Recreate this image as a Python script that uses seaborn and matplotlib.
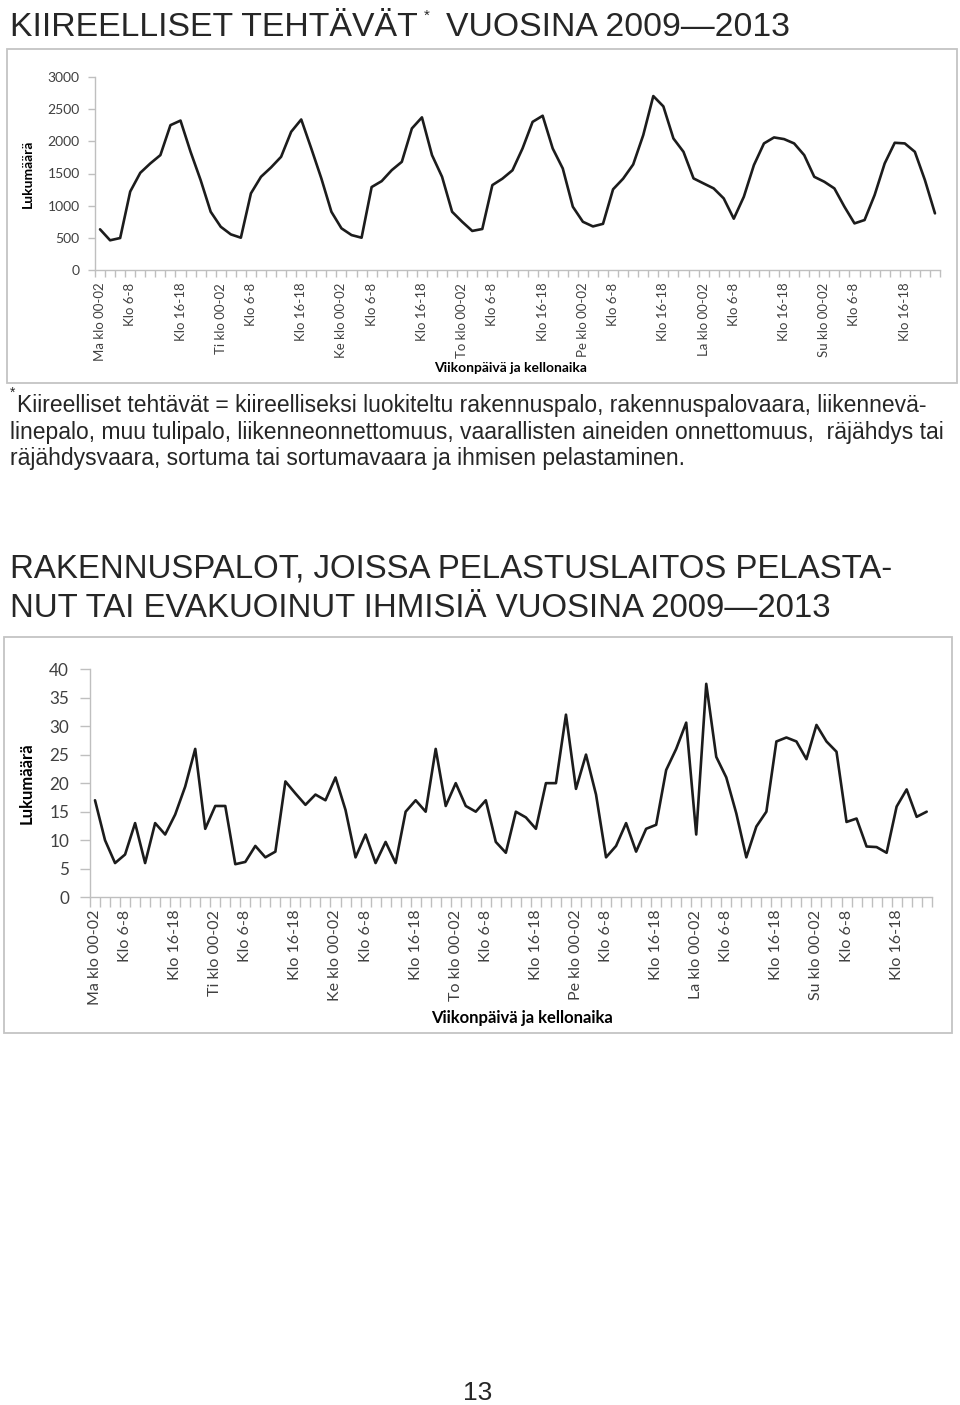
import numpy as np
import pandas as pd
import matplotlib
matplotlib.use("Agg")
import matplotlib.pyplot as plt
import seaborn as sns
from matplotlib.patches import Rectangle

# ---------------- data ----------------
# Kiireelliset tehtävät, 2-hour slots Ma 00-02 ... Su 22-24 (84 slots)
kiireelliset = [
    635, 465, 500, 1220, 1510, 1656, 1785, 2249, 2320, 1836, 1398, 907,
    675, 557, 505, 1192, 1449, 1594, 1759, 2146, 2337, 1888, 1424, 907,
    650, 546, 505, 1290, 1382, 1552, 1681, 2198, 2370, 1785, 1449, 907,
    752, 610, 640, 1320, 1420, 1550, 1888, 2300, 2395, 1888, 1578, 985,
    752, 680, 720, 1255, 1420, 1640, 2095, 2700, 2540, 2043, 1836, 1424,
    1346, 1269, 1114, 800, 1140, 1630, 1966, 2059, 2033, 1966, 1785, 1449,
    1372, 1269, 985, 727, 779, 1166, 1656, 1976, 1966, 1836, 1398, 882,
]
# Rakennuspalot, joissa pelastettu tai evakuoitu ihmisiä (84 slots)
rakennuspalot = [
    17, 10, 6, 7.5, 13, 6, 13, 11, 14.5, 19.4, 26, 12,
    16, 16, 5.8, 6.2, 9, 7, 8, 20.3, 18.2, 16.2, 18, 17,
    21, 15.3, 7, 11, 6, 9.7, 6, 15, 17, 15, 26, 16,
    20, 16, 15, 17, 9.7, 7.8, 15, 14, 12, 20, 20, 32,
    19, 25, 18, 7, 9, 13, 8, 12, 12.7, 22.3, 26, 30.6,
    11, 37.4, 24.6, 21, 14.7, 7, 12.4, 15, 27.3, 28, 27.3, 24.2,
    30.2, 27.3, 25.5, 13.2, 13.8, 8.9, 8.8, 7.8, 15.9, 18.9, 14.1, 15,
]
tick_positions = [0, 3, 8, 12, 15, 20, 24, 27, 32, 36, 39, 44,
                  48, 51, 56, 60, 63, 68, 72, 75, 80]
tick_labels = ["Ma klo 00-02", "Klo 6-8", "Klo 16-18",
               "Ti klo 00-02", "Klo 6-8", "Klo 16-18",
               "Ke klo 00-02", "Klo 6-8", "Klo 16-18",
               "To klo 00-02", "Klo 6-8", "Klo 16-18",
               "Pe klo 00-02", "Klo 6-8", "Klo 16-18",
               "La klo 00-02", "Klo 6-8", "Klo 16-18",
               "Su klo 00-02", "Klo 6-8", "Klo 16-18"]
y1_ticks = [0, 500, 1000, 1500, 2000, 2500, 3000]
y2_ticks = [0, 5, 10, 15, 20, 25, 30, 35, 40]

title1_a = "KIIREELLISET TEHTÄVÄT"
title1_b = "VUOSINA 2009\u20142013"
footnote_lines = [
    "Kiireelliset tehtävät = kiireelliseksi luokiteltu rakennuspalo, rakennuspalovaara, liikennevä-",
    "linepalo, muu tulipalo, liikenneonnettomuus, vaarallisten aineiden onnettomuus,  räjähdys tai",
    "räjähdysvaara, sortuma tai sortumavaara ja ihmisen pelastaminen.",
]
title2_lines = ["RAKENNUSPALOT, JOISSA PELASTUSLAITOS PELASTA-",
                "NUT TAI EVAKUOINUT IHMISIÄ VUOSINA 2009\u20142013"]
y_title = "Lukumäärä"
x_title = "Viikonpäivä ja kellonaika"

# ---------------- figure ----------------
W, H = 960, 1405
sns.set_theme(style="white")
plt.rcParams['font.family'] = ['Lato', 'DejaVu Sans']
DOC_FONT = ['Liberation Sans', 'DejaVu Sans']

fig = plt.figure(figsize=(W / 100, H / 100), dpi=100)
fig.patch.set_facecolor("white")


def fx(x):
    return x / W


def fy(y):
    return 1 - y / H


def axes_px(left, top, right, bottom):
    return fig.add_axes([fx(left), fy(bottom), (right - left) / W, (bottom - top) / H])


def box_px(left, top, right, bottom):
    fig.add_artist(Rectangle((fx(left), fy(bottom)), (right - left) / W, (bottom - top) / H,
                             transform=fig.transFigure, fill=False,
                             edgecolor="#c4c4c4", linewidth=1.3))


AXIS_COL = "#bfbfbf"
TXT_COL = "#404040"


def draw_chart(ax, values, yticks, tick_fs, ytick_fs, title_fs, ytick_len, xtick_len,
               ytick_pad, xtick_pad, lw, xlab_pos, ylab_pos):
    df = pd.DataFrame({"slot": np.arange(len(values)), "value": values})
    sns.lineplot(data=df, x="slot", y="value", ax=ax, color="#1c1c1c",
                 linewidth=lw, solid_joinstyle="round", solid_capstyle="round")
    ax.set_xlim(-0.5, len(values) - 0.5)
    ax.set_ylim(yticks[0], yticks[-1])
    ax.set_facecolor("none")
    for s in ["top", "right"]:
        ax.spines[s].set_visible(False)
    for s in ["left", "bottom"]:
        ax.spines[s].set_color(AXIS_COL)
        ax.spines[s].set_linewidth(1.0)
    ax.set_yticks(yticks)
    ax.set_yticklabels([str(t) for t in yticks])
    ax.tick_params(axis="y", direction="out", length=ytick_len, width=1.0,
                   color=AXIS_COL, labelsize=ytick_fs, labelcolor=TXT_COL, pad=ytick_pad, left=True)
    ax.set_xticks(tick_positions)
    ax.set_xticklabels(tick_labels, rotation=90, ha="center", va="top")
    ax.set_xticks(np.arange(-0.5, len(values), 1), minor=True)
    ax.tick_params(axis="x", which="major", length=0, labelsize=tick_fs,
                   labelcolor=TXT_COL, pad=xtick_pad, bottom=True)
    ax.tick_params(axis="x", which="minor", direction="out", length=xtick_len,
                   width=1.0, color=AXIS_COL, bottom=True)
    ax.grid(False)
    ax.set_xlabel(x_title, fontsize=title_fs, fontweight="bold", color="black")
    ax.set_ylabel(y_title, fontsize=title_fs, fontweight="bold", color="black")
    ax.xaxis.set_label_coords(*xlab_pos)
    ax.xaxis.label.set_va("center")
    ax.yaxis.set_label_coords(*ylab_pos)
    ax.yaxis.label.set_va("center")


# ---- heading 1 ----
fig.text(fx(10), fy(28), title1_a, fontsize=24.3, family=DOC_FONT, ha="left", va="center")
fig.text(fx(424), fy(16), "*", fontsize=11, family=DOC_FONT, ha="left", va="center")
fig.text(fx(446), fy(28), title1_b, fontsize=24.3, family=DOC_FONT, ha="left", va="center")

# ---- chart 1 ----
box_px(7, 49, 957, 383)
ax1 = axes_px(95, 76.7, 940, 270.3)
draw_chart(ax1, kiireelliset, y1_ticks, tick_fs=9.5, ytick_fs=10, title_fs=10,
           ytick_len=5, xtick_len=5, ytick_pad=6, xtick_pad=9, lw=1.9,
           xlab_pos=((511 - 95) / 845, (270.3 - 368) / 193.6),
           ylab_pos=((28 - 95) / 845, 0.5))

# ---- footnote ----
fig.text(fx(10), fy(393), "*", fontsize=10, family=DOC_FONT, ha="left", va="center")
for i, line in enumerate(footnote_lines):
    x0 = 17 if i == 0 else 10
    fig.text(fx(x0), fy(405 + 27 * i), line, fontsize=16.5, family=DOC_FONT,
             ha="left", va="center")

# ---- heading 2 ----
for i, line in enumerate(title2_lines):
    fig.text(fx(10), fy(569 + 39 * i), line, fontsize=23.8, family=DOC_FONT,
             ha="left", va="center")

# ---- chart 2 ----
box_px(4, 637, 952, 1033)
ax2 = axes_px(90, 669, 931.7, 897.3)
draw_chart(ax2, rakennuspalot, y2_ticks, tick_fs=11.5, ytick_fs=12.3, title_fs=12,
           ytick_len=7, xtick_len=7, ytick_pad=8, xtick_pad=9, lw=1.9,
           xlab_pos=((522 - 90) / 841.7, (897.3 - 1018) / 228.3),
           ylab_pos=((27 - 90) / 841.7, 0.5))

# ---- page number ----
fig.text(fx(478), fy(1393), "13", fontsize=19, family=DOC_FONT, ha="center", va="center")

fig.savefig("out.png", dpi=100, facecolor="white")
